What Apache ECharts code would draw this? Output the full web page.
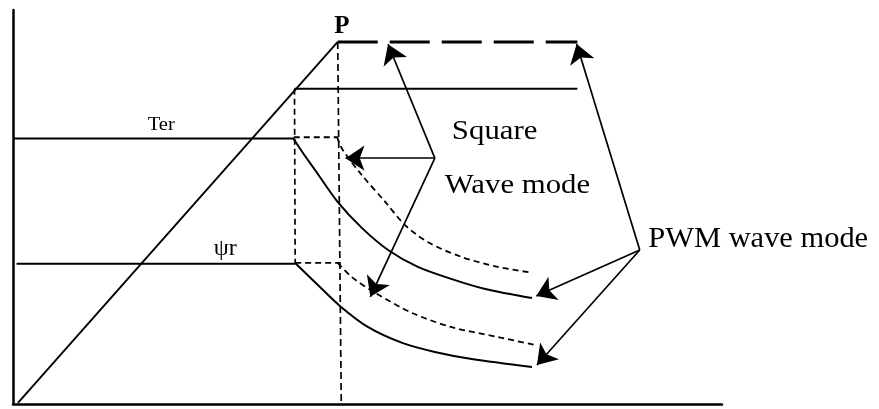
<!DOCTYPE html>
<html>
<head>
<meta charset="utf-8">
<style>
  html, body { margin: 0; padding: 0; background: #fff; }
  #chart { width: 879px; height: 409px; }
</style>
<script src="https://cdn.jsdelivr.net/npm/echarts@6/dist/echarts.min.js"></script>
</head>
<body>
<div id="chart"></div>
<script>
// Speed (x, 0-100) versus torque / flux (y, 0-100), arbitrary units.
const speedRamp        = [[0.7, 0.3], [45.8, 91.9]];
const peakLevel        = [[45.8, 91.9], [79.6, 91.9]];
const ratedLevel       = [[39.7, 80.0], [79.6, 80.0]];
const terLevel         = [[0, 67.4], [39.6, 67.4]];
const terExtension     = [[39.6, 67.7], [45.8, 67.7]];
const fluxLevel        = [[0.5, 35.6], [39.8, 35.6]];
const fluxExtension    = [[39.8, 35.8], [46.0, 35.8]];
const baseSpeedMarker  = [[39.7, 80.0], [39.8, 35.6]];
const peakSpeedMarker  = [[45.8, 91.9], [46.3, 0]];

// Field-weakening curves: PWM (solid) and square wave (dashed)
const torquePwm = [[39.5, 67.5], [40.9, 63.7], [42.6, 59.4], [45.7, 51.5], [49.2, 44.7],
                   [52.9, 39.1], [57.1, 34.8], [61.9, 31.7], [66.6, 29.2], [73.2, 26.9]];
const torqueSquare = [[45.7, 67.8], [46.5, 64.5], [49.2, 58.1], [52.5, 51.3], [55.3, 45.4],
                      [58.5, 41.1], [63.3, 37.3], [68.4, 34.8], [73.3, 33.3]];
const fluxPwm = [[39.8, 35.8], [43.0, 30.2], [46.1, 24.9], [50.1, 19.5], [54.9, 15.5],
                 [59.5, 13.2], [64.7, 11.4], [73.2, 9.4]];
const fluxSquare = [[45.8, 35.8], [47.8, 32.2], [51.1, 28.2], [56.3, 23.1], [61.9, 19.5],
                    [68.4, 17.0], [73.6, 15.0]];

// Callout arrows
const squarePivot   = [59.5, 62.4];
const squareTargets = [[52.9, 91.3], [46.9, 62.4], [50.4, 27.2]];
const pwmPivot      = [88.4, 39.1];
const pwmTargets    = [[79.5, 91.4], [73.8, 27.4], [73.9, 9.9]];

// Text annotations
const labelTexts = ['P', 'Ter', 'ψr', 'Square', 'Wave mode', 'PWM wave mode'];

const chart = echarts.init(document.getElementById('chart'), null, { renderer: 'canvas' });

function seg(data, width, dash) {
  return {
    type: 'line', data: data, showSymbol: false, silent: true,
    lineStyle: { color: '#000', width: width, type: dash || 'solid' }
  };
}
function curve(data, width, dash) {
  const s = seg(data, width, dash);
  s.smooth = 0.3;
  return s;
}
const arrowData = squareTargets.map(t => ({ coords: [squarePivot, t] }))
  .concat(pwmTargets.map(t => ({ coords: [pwmPivot, t] })));

chart.setOption({
  animation: false,
  backgroundColor: '#fff',
  grid: { left: 13, top: 10, right: 157, bottom: 5, containLabel: false },
  xAxis: {
    type: 'value', min: 0, max: 100,
    axisLine: { show: true, onZero: false, lineStyle: { color: '#000', width: 2.5 } },
    axisTick: { show: false }, axisLabel: { show: false }, splitLine: { show: false }
  },
  yAxis: {
    type: 'value', min: 0, max: 100,
    axisLine: { show: true, onZero: false, lineStyle: { color: '#000', width: 2.5 } },
    axisTick: { show: false }, axisLabel: { show: false }, splitLine: { show: false }
  },
  series: [
    seg(speedRamp, 1.9),
    seg(peakLevel, 3, [40, 12]),
    seg(ratedLevel, 1.9),
    seg(terLevel, 1.9),
    seg(terExtension, 1.8, [6, 4]),
    seg(fluxLevel, 1.9),
    seg(fluxExtension, 1.8, [6, 4]),
    seg(baseSpeedMarker, 1.7, [6, 4]),
    seg(peakSpeedMarker, 1.7, [7, 4]),
    curve(torquePwm, 2),
    curve(torqueSquare, 1.8, [6, 4]),
    curve(fluxPwm, 2),
    curve(fluxSquare, 1.8, [6, 4]),
    {
      type: 'lines', coordinateSystem: 'cartesian2d', silent: true,
      symbol: ['none', 'arrow'], symbolSize: 19, symbolOffset: [0, 9],
      lineStyle: { color: '#000', width: 1.7, opacity: 1 },
      itemStyle: { color: '#000' },
      data: arrowData
    }
  ]
});

// Place the text annotations in data space
const anchors = [
  { at: [46.4, 95.7], size: 25, weight: 'bold', align: 'center', sx: 1.0 },
  { at: [19.0, 70.8], size: 19, weight: 'normal', align: 'left', sx: 1.08 },
  { at: [28.3, 39.3], size: 24, weight: 'normal', align: 'left', sx: 1.0 },
  { at: [61.9, 69.0], size: 27, weight: 'normal', align: 'left', sx: 1.14 },
  { at: [60.9, 55.3], size: 27, weight: 'normal', align: 'left', sx: 1.14 },
  { at: [89.6, 41.9], size: 29, weight: 'normal', align: 'left', sx: 1.05 }
];
const graphics = anchors.map((a, i) => {
  const p = chart.convertToPixel({ gridIndex: 0 }, a.at);
  return {
    type: 'text', x: p[0], y: p[1], scaleX: a.sx, silent: true,
    style: {
      text: labelTexts[i], x: 0, y: 0,
      fill: '#000', fontFamily: '"Liberation Serif", "Times New Roman", serif',
      fontSize: a.size, fontWeight: a.weight,
      align: a.align, verticalAlign: 'middle'
    }
  };
});
chart.setOption({ graphic: graphics });
</script>
</body>
</html>
